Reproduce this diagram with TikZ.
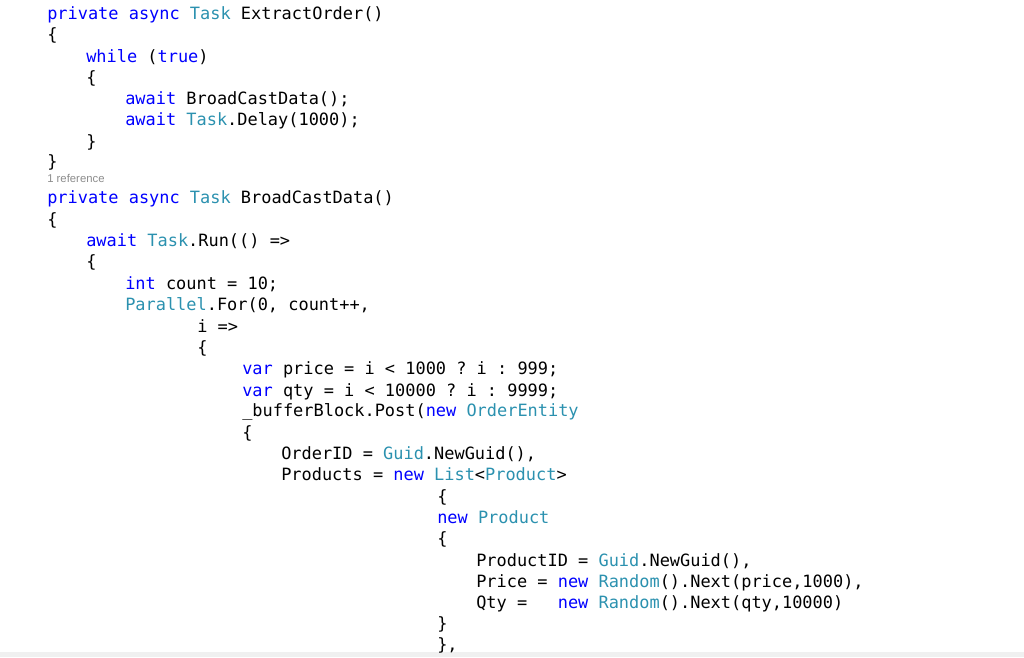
\documentclass[tikz,border=0pt]{standalone}
\usepackage{fontspec}
\setmonofont{DejaVu Sans Mono}
\setsansfont{Liberation Sans}
\definecolor{kwblue}{RGB}{0,0,255}
\definecolor{tyteal}{RGB}{43,145,175}
\definecolor{refgrey}{RGB}{140,140,140}
\newcommand{\kw}[1]{\textcolor{kwblue}{#1}}
\newcommand{\ty}[1]{\textcolor{tyteal}{#1}}
\tikzset{codeline/.style={anchor=base west, inner sep=0pt, yshift=-1.5pt, font=\ttfamily\fontsize{12.7}{15}\selectfont}}

\begin{document}
\begin{tikzpicture}[x=0.75pt, y=-0.75pt]
        \useasboundingbox (0,0) rectangle (1024,657);
        \fill[black!6] (0,652) rectangle (1024,657);

        % ExtractOrder
        \node[codeline] (l1) at (47,17) {\kw{private} \kw{async} \ty{Task} ExtractOrder()};
        \node[codeline] (l2) at (47,38) {\{};
        \node[codeline] (l3) at (86,60) {\kw{while} (\kw{true})};
        \node[codeline] (l4) at (86,81) {\{};
        \node[codeline] (l5) at (125,102) {\kw{await} BroadCastData();};
        \node[codeline] (l6) at (125,123) {\kw{await} \ty{Task}.Delay(1000);};
        \node[codeline] (l7) at (86,145) {\}};
        \node[codeline] (l8) at (47,165) {\}};

        % reference hint
        \node[anchor=base west, inner sep=0pt, text=refgrey, font=\sffamily\fontsize{8.5}{10}\selectfont] (ref) at (47,182) {1 reference};

        % BroadCastData
        \node[codeline] (l9) at (47,201) {\kw{private} \kw{async} \ty{Task} BroadCastData()};
        \node[codeline] (l10) at (47,223) {\{};
        \node[codeline] (l11) at (86,244) {\kw{await} \ty{Task}.Run(() =>};
        \node[codeline] (l12) at (86,265) {\{};
        \node[codeline] (l13) at (125,287) {\kw{int} count = 10;};
        \node[codeline] (l14) at (125,308) {\ty{Parallel}.For(0, count++,};
        \node[codeline] (l15) at (197,330) {i =>};
        \node[codeline] (l16) at (197,351) {\{};
        \node[codeline] (l17) at (242,372) {\kw{var} price = i < 1000 ? i : 999;};
        \node[codeline] (l18) at (242,394) {\kw{var} qty = i < 10000 ? i : 9999;};
        \node[codeline] (l19) at (242,414) {\_bufferBlock.Post(\kw{new} \ty{OrderEntity}};
        \node[codeline] (l20) at (242,436) {\{};
        \node[codeline] (l21) at (281,457) {OrderID = \ty{Guid}.NewGuid(),};
        \node[codeline] (l22) at (281,478) {Products = \kw{new} \ty{List}<\ty{Product}>};
        \node[codeline] (l23) at (437,500) {\{};
        \node[codeline] (l24) at (437,521) {\kw{new} \ty{Product}};
        \node[codeline] (l25) at (437,542) {\{};
        \node[codeline] (l26) at (476,564) {ProductID = \ty{Guid}.NewGuid(),};
        \node[codeline] (l27) at (476,585) {Price = \kw{new} \ty{Random}().Next(price,1000),};
        \node[codeline] (l28) at (476,606) {Qty =\ \ \ \kw{new} \ty{Random}().Next(qty,10000)};
        \node[codeline] (l29) at (437,627) {\}};
        \node[codeline] (l30) at (437,648) {\},};

\end{tikzpicture}
\end{document}
